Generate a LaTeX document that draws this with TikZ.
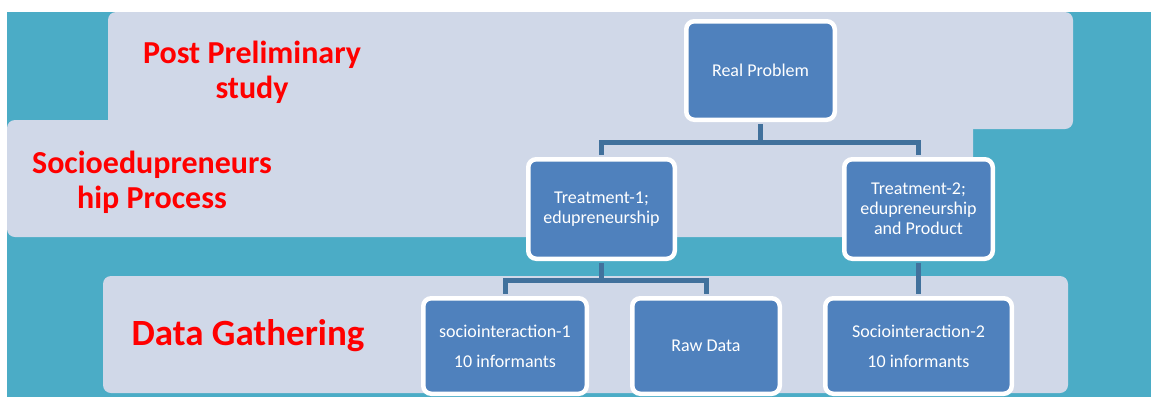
\documentclass[tikz,border=0pt]{standalone}
\usepackage{fontspec}
\setmainfont{Carlito}

\definecolor{tealback}{HTML}{4BACC6}
\definecolor{bandgray}{HTML}{D0D8E8}
\definecolor{boxblue}{HTML}{4F81BD}
\definecolor{linkblue}{HTML}{41719C}

\begin{document}
\begin{tikzpicture}[x=1pt,y=-1pt]
    \tikzstyle{band} = [fill=bandgray, rounded corners=8pt]
    \tikzstyle{box} = [draw=white, fill=boxblue, shape=rectangle, rounded corners=8pt, line width=4.5pt, align=center, text=white, inner sep=0pt, font=\fontsize{18}{20}\selectfont]
    \tikzstyle{tall} = [font=\fontsize{18}{30}\selectfont]
    \tikzstyle{stage} = [align=center, text=red, font=\bfseries\fontsize{32}{35}\selectfont]
    \tikzstyle{link} = [draw=linkblue, line width=5pt, shorten <=2.25pt, shorten >=2.25pt]

    \useasboundingbox (0,0) rectangle (1151,397);

    % background and the three stage bands
    \fill [tealback] (7,12) rectangle (1151,397);
    \fill [band] (108,12) rectangle (1073,129);
    \fill [band] (7,120) rectangle (973,237);
    \fill [band] (103,276) rectangle (1068,393);

    \node [stage] at (252,72) (prelim) {Post Preliminary\\study};
    \node [stage] at (152,182) (process) {Socioedupreneurs\\hip Process};
    \node [stage, anchor=base, font=\bfseries\fontsize{37}{40}\selectfont] at (248,345) (gather) {Data Gathering};

    % tree of boxes
    \node [box, minimum width=148.5pt, minimum height=98.5pt] at (760.5,70.5) (real) {Real Problem};
    \node [box, minimum width=146.5pt, minimum height=99.5pt] at (601.5,209) (t1) {Treatment-1;\\edupreneurship};
    \node [box, minimum width=148.5pt, minimum height=99.5pt] at (918.5,209) (t2) {Treatment-2;\\edupreneurship\\and Product};
    \node [box, tall, minimum width=163.5pt, minimum height=95.5pt] at (505,346) (socio1) {sociointeraction-1\\10 informants};
    \node [box, minimum width=147.5pt, minimum height=95.5pt] at (706,346) (raw) {Raw Data};
    \node [box, tall, minimum width=186.5pt, minimum height=95.5pt] at (918.5,346) (socio2) {Sociointeraction-2\\10 informants};

    \begin{scope}
    \draw [link] (real.south) -- ++(0,20) -| (t1.north);
    \draw [link] (real.south) -- ++(0,20) -| (t2.north);
    \draw [link] (t1.south) -- ++(0,19) -| (socio1.north);
    \draw [link] (t1.south) -- ++(0,19) -| (raw.north);
    \draw [link] (t2.south) -- (socio2.north);
    \end{scope}
\end{tikzpicture}
\end{document}
